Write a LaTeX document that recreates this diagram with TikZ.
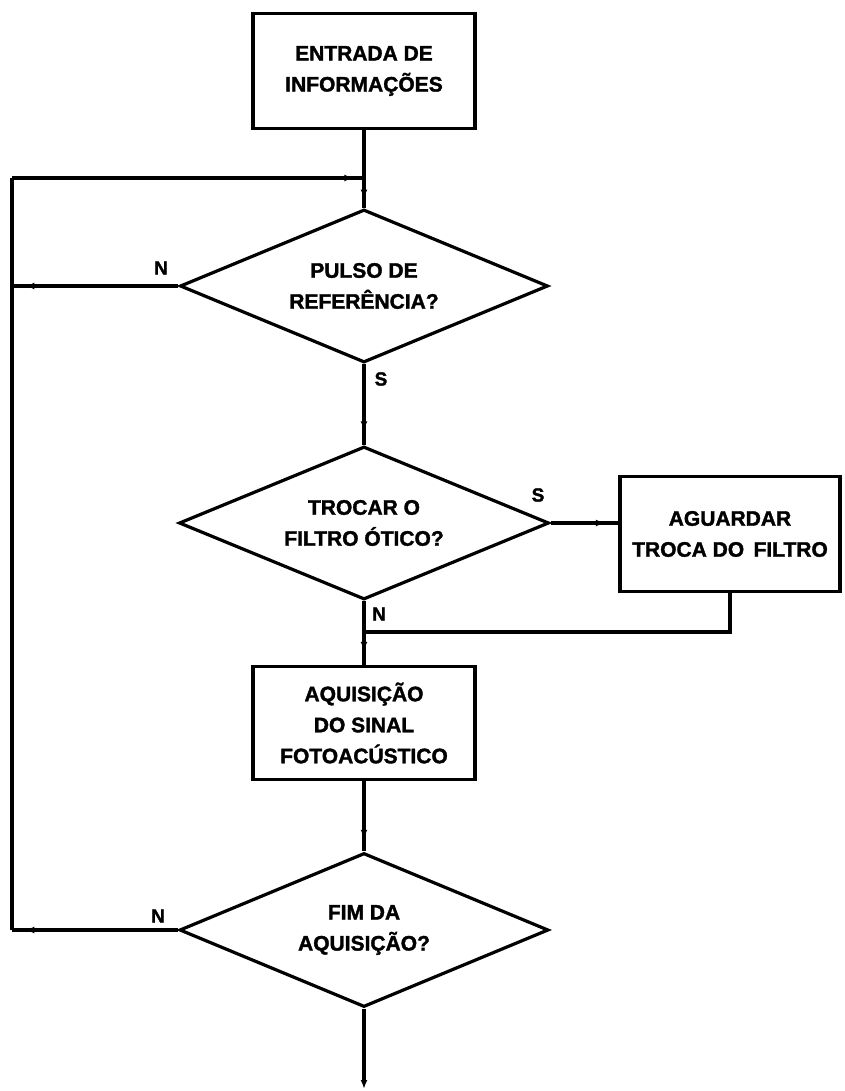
\documentclass[tikz,border=0pt]{standalone}
\usepackage{fontspec}
\setmainfont{Liberation Sans}[BoldFeatures={FakeBold=1.6}]
\usetikzlibrary{shapes.geometric,arrows.meta,decorations.markings}
\begin{document}
\begin{tikzpicture}[x=1pt,y=-1pt,
  line width=3.2pt,
  txt/.style={font=\bfseries\fontsize{21}{31}\selectfont, align=center},
  proc/.style={draw, rectangle, txt, inner sep=0pt},
  decision/.style={draw, diamond, txt, inner sep=0pt, aspect=2.4},
  lbl/.style={font=\bfseries\fontsize{19}{22}\selectfont, inner sep=0pt},
  tipat/.style={postaction={decorate,decoration={markings,
     mark=at position #1 with {\arrow{Latex[length=9pt,width=7pt]}}}}},
]
\useasboundingbox (0,0) rectangle (844,1091);

% blocks
\node[proc, minimum width=222pt, minimum height=115pt] (b1) at (364,71)
  {ENTRADA DE\\INFORMAÇÕES};
\node[decision, minimum width=368pt, minimum height=153pt] (d1) at (364,286)
  {PULSO DE\\REFERÊNCIA?};
\node[decision, minimum width=370pt, minimum height=153pt] (d2) at (364,523)
  {TROCAR O\\FILTRO ÓTICO?};
\node[proc, minimum width=220pt, minimum height=115pt] (b2) at (730,534)
  {AGUARDAR\\TROCA DO\, FILTRO};
\node[proc, minimum width=222pt, minimum height=113pt] (b3) at (364,723)
  {AQUISIÇÃO\\DO SINAL\\FOTOACÚSTICO};
\node[decision, minimum width=369pt, minimum height=154pt] (d3) at (364,930)
  {FIM DA\\AQUISIÇÃO?};

% junction and corner points
\coordinate (j1) at (364,178);
\coordinate (lt) at (12,178);
\coordinate (l1) at (12,286);
\coordinate (lb) at (12,930);
\coordinate (j2) at (364,632);
\coordinate (end) at (364,1089);

% connectors
\draw[tipat=0.88] (b1.south) -- (d1.north);
\draw[tipat=0.92] (d1.west) -- (l1);
\draw[tipat=0.82] (d1.south) -- (d2.north);
\draw[tipat=0.8] (d2.east) -- (d2.east -| b2.west);
\draw (b2.south) |- (j2);
\draw[tipat=0.78] (d2.south) -- (b3.north);
\draw[tipat=0.82] (b3.south) -- (d3.north);
\draw[tipat=0.92] (d3.west) -- (lb);
\draw (lb) -- (lt);
\draw[tipat=0.97] (lt) -- (j1);
\draw[-{Latex[length=9pt,width=7pt]}] (d3.south) -- (end);

% branch labels
\node[lbl] (n1) at (161,268) {N};
\node[lbl] (s1) at (381,379) {S};
\node[lbl] (s2) at (538,495) {S};
\node[lbl] (n2) at (379,614) {N};
\node[lbl] (n3) at (158,916) {N};
\end{tikzpicture}
\end{document}
